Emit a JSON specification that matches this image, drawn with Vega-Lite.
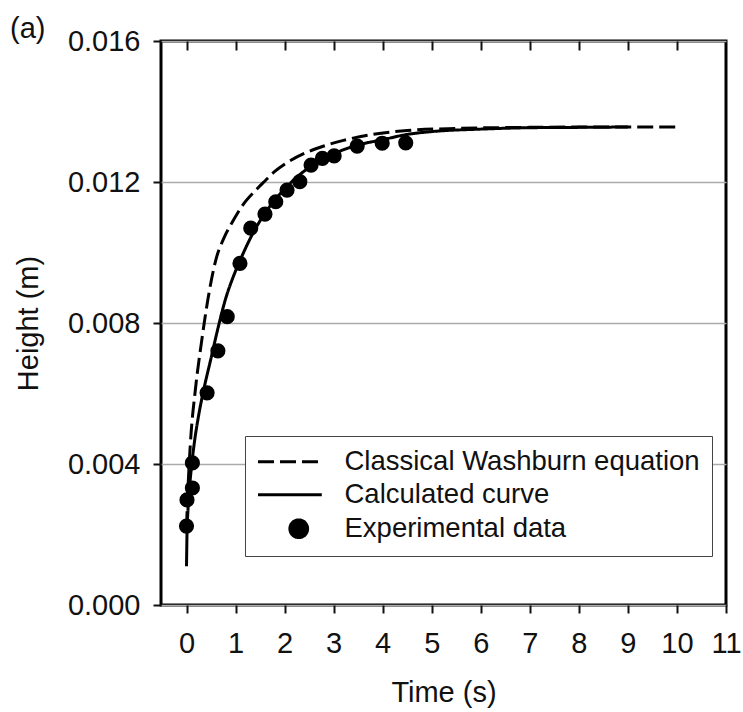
{
  "$schema": "https://vega.github.io/schema/vega-lite/v6.json",
  "autosize": "none",
  "width": 565,
  "height": 564,
  "padding": {"left": 161, "top": 41, "right": 17, "bottom": 107},
  "background": "white",
  "title": {"text": "(a)", "anchor": "start", "frame": "group", "dx": -151, "dy": 44, "fontSize": 29, "font": "Liberation Sans", "fontWeight": "normal", "color": "#111", "baseline": "alphabetic", "offset": 4},
  "config": {
    "view": {"stroke": "black", "strokeWidth": 3},
    "font": "Liberation Sans",
    "axis": {"labelFont": "Liberation Sans", "titleFont": "Liberation Sans", "labelFontSize": 29, "titleFontSize": 29, "titleFontWeight": "normal", "labelColor": "#111", "titleColor": "#111", "tickColor": "#111", "tickWidth": 2},
    "legend": {
      "orient": "none", "legendX": 84, "legendY": 395,
      "symbolSize": 314, "symbolStrokeWidth": 3,
      "labelFontSize": 27.5, "labelFont": "Liberation Sans", "labelColor": "#111", "labelLimit": 600,
      "labelOffset": 32, "symbolOffset": 28, "padding": 12, "rowPadding": 4,
      "strokeColor": "#444", "fillColor": "white"
    }
  },
  "datasets": {
    "curves": [
      {"series": "Calculated curve", "t": 0.0, "h": 0.0011},
      {"series": "Calculated curve", "t": 0.01, "h": 0.0020},
      {"series": "Calculated curve", "t": 0.03, "h": 0.0027},
      {"series": "Calculated curve", "t": 0.06, "h": 0.0033},
      {"series": "Calculated curve", "t": 0.1, "h": 0.0039},
      {"series": "Calculated curve", "t": 0.15, "h": 0.0045},
      {"series": "Calculated curve", "t": 0.25, "h": 0.0054},
      {"series": "Calculated curve", "t": 0.35, "h": 0.0061},
      {"series": "Calculated curve", "t": 0.5, "h": 0.0070},
      {"series": "Calculated curve", "t": 0.65, "h": 0.0079},
      {"series": "Calculated curve", "t": 0.8, "h": 0.0087},
      {"series": "Calculated curve", "t": 0.95, "h": 0.0093},
      {"series": "Calculated curve", "t": 1.1, "h": 0.0098},
      {"series": "Calculated curve", "t": 1.3, "h": 0.0104},
      {"series": "Calculated curve", "t": 1.5, "h": 0.0109},
      {"series": "Calculated curve", "t": 1.75, "h": 0.0114},
      {"series": "Calculated curve", "t": 2.0, "h": 0.0118},
      {"series": "Calculated curve", "t": 2.3, "h": 0.0122},
      {"series": "Calculated curve", "t": 2.6, "h": 0.0125},
      {"series": "Calculated curve", "t": 3.0, "h": 0.0128},
      {"series": "Calculated curve", "t": 3.5, "h": 0.01305},
      {"series": "Calculated curve", "t": 4.0, "h": 0.0132},
      {"series": "Calculated curve", "t": 4.5, "h": 0.01335},
      {"series": "Calculated curve", "t": 5.0, "h": 0.01343},
      {"series": "Calculated curve", "t": 6.0, "h": 0.0135},
      {"series": "Calculated curve", "t": 7.0, "h": 0.01354},
      {"series": "Calculated curve", "t": 8.0, "h": 0.01355},
      {"series": "Calculated curve", "t": 9.0, "h": 0.01356},
      {"series": "Classical Washburn equation", "t": 0.0, "h": 0.0022},
      {"series": "Classical Washburn equation", "t": 0.03, "h": 0.0033},
      {"series": "Classical Washburn equation", "t": 0.08, "h": 0.0046},
      {"series": "Classical Washburn equation", "t": 0.18, "h": 0.0061},
      {"series": "Classical Washburn equation", "t": 0.3, "h": 0.0074},
      {"series": "Classical Washburn equation", "t": 0.44, "h": 0.0087},
      {"series": "Classical Washburn equation", "t": 0.6, "h": 0.0098},
      {"series": "Classical Washburn equation", "t": 0.76, "h": 0.0104},
      {"series": "Classical Washburn equation", "t": 0.95, "h": 0.0109},
      {"series": "Classical Washburn equation", "t": 1.15, "h": 0.01135},
      {"series": "Classical Washburn equation", "t": 1.4, "h": 0.01175},
      {"series": "Classical Washburn equation", "t": 1.6, "h": 0.01203},
      {"series": "Classical Washburn equation", "t": 1.8, "h": 0.0123},
      {"series": "Classical Washburn equation", "t": 2.05, "h": 0.01255},
      {"series": "Classical Washburn equation", "t": 2.4, "h": 0.01281},
      {"series": "Classical Washburn equation", "t": 2.8, "h": 0.01302},
      {"series": "Classical Washburn equation", "t": 3.2, "h": 0.01318},
      {"series": "Classical Washburn equation", "t": 3.8, "h": 0.01335},
      {"series": "Classical Washburn equation", "t": 4.5, "h": 0.01346},
      {"series": "Classical Washburn equation", "t": 5.5, "h": 0.01352},
      {"series": "Classical Washburn equation", "t": 7.0, "h": 0.01355},
      {"series": "Classical Washburn equation", "t": 8.5, "h": 0.01356},
      {"series": "Classical Washburn equation", "t": 10.0, "h": 0.01356}
    ],
    "points": [
      {"t": 0.0, "h": 0.00224},
      {"t": 0.01, "h": 0.00298},
      {"t": 0.12, "h": 0.00332},
      {"t": 0.12, "h": 0.00403},
      {"t": 0.42, "h": 0.00602},
      {"t": 0.64, "h": 0.00721},
      {"t": 0.83, "h": 0.00818},
      {"t": 1.09, "h": 0.00969},
      {"t": 1.31, "h": 0.01069},
      {"t": 1.6, "h": 0.01109},
      {"t": 1.82, "h": 0.01144},
      {"t": 2.05, "h": 0.01177},
      {"t": 2.31, "h": 0.01201},
      {"t": 2.54, "h": 0.01248},
      {"t": 2.77, "h": 0.01267},
      {"t": 3.01, "h": 0.01274},
      {"t": 3.48, "h": 0.01302},
      {"t": 3.99, "h": 0.0131},
      {"t": 4.47, "h": 0.01311}
    ]
  },
  "resolve": {"axis": {"x": "independent"}},
  "layer": [
    {
      "data": {"name": "curves"},
      "mark": {"type": "line", "strokeWidth": 3, "interpolate": "monotone"},
      "encoding": {
        "x": {"field": "t", "type": "quantitative", "scale": {"domain": [-0.52, 11], "nice": false, "zero": false},
          "axis": {"orient": "bottom", "title": "Time (s)", "values": [0,1,2,3,4,5,6,7,8,9,10,11], "tickSize": 8, "domain": false, "grid": false, "labelPadding": 16, "titlePadding": 20, "labelFlush": false}},
        "y": {"field": "h", "type": "quantitative", "scale": {"domain": [0, 0.016], "nice": false},
          "axis": {"title": "Height (m)", "values": [0, 0.004, 0.008, 0.012, 0.016], "format": ".3f", "tickSize": 8, "domain": false, "grid": true, "gridColor": "#ababab", "gridWidth": 1.5, "labelPadding": 13, "titlePadding": 24}},
        "color": {"field": "series", "type": "nominal",
          "scale": {"domain": ["Classical Washburn equation", "Calculated curve", "Experimental data"], "range": ["black", "black", "black"]},
          "legend": {"title": null,
            "encode": {"symbols": {"update": {
              "shape": {"signal": "datum.value === 'Experimental data' ? 'circle' : 'M-4.6,0L2.6,0'"},
              "strokeDash": {"signal": "datum.value === 'Classical Washburn equation' ? [16,6] : [1,0]"},
              "fill": {"signal": "datum.value === 'Experimental data' ? 'black' : 'transparent'"},
              "stroke": {"signal": "datum.value === 'Experimental data' ? 'transparent' : 'black'"},
              "strokeWidth": {"value": 3}
            }}}}},
        "strokeDash": {"field": "series", "type": "nominal",
          "scale": {"domain": ["Classical Washburn equation", "Calculated curve"], "range": [[16, 6], [1, 0]]},
          "legend": null}
      }
    },
    {
      "data": {"name": "points"},
      "mark": {"type": "circle", "size": 230, "opacity": 1, "color": "black"},
      "encoding": {
        "x": {"field": "t", "type": "quantitative",
          "axis": {"orient": "top", "labels": false, "title": null, "values": [0,1,2,3,4,5,6,7,8,9,10], "tickSize": -9, "domain": false, "grid": false}},
        "y": {"field": "h", "type": "quantitative",
          "axis": {"title": "Height (m)", "values": [0, 0.004, 0.008, 0.012, 0.016], "format": ".3f", "tickSize": 8, "domain": false, "grid": true, "gridColor": "#ababab", "gridWidth": 1.5, "labelPadding": 13, "titlePadding": 24}}
      }
    }
  ]
}
